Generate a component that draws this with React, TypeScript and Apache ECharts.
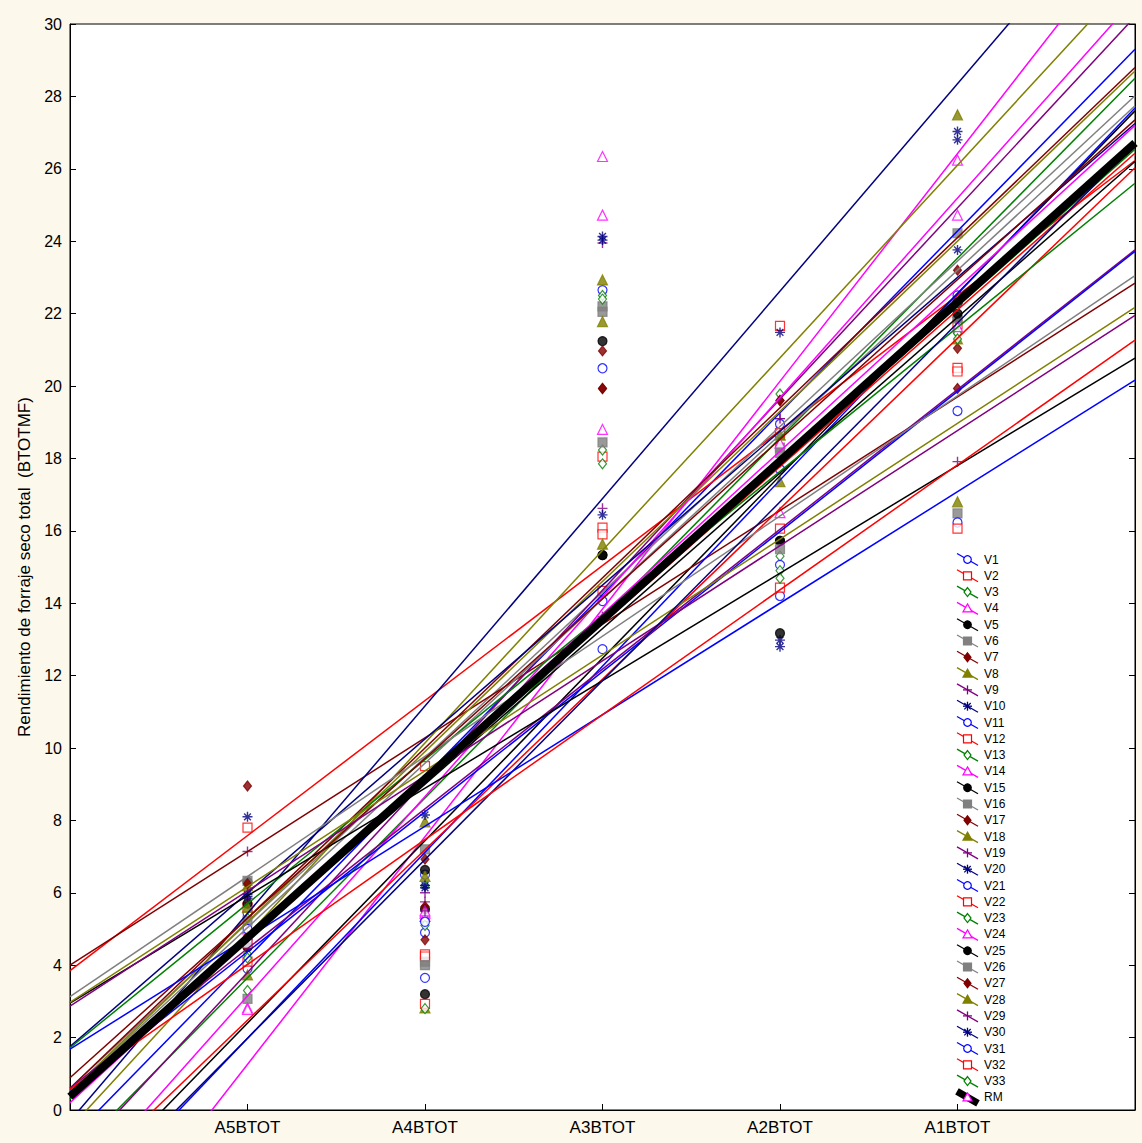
import React, { useEffect, useRef } from "react";
import * as echarts from "echarts";

// Environments (x positions 1..5 on the index axis)
const environments = ["A5BTOT", "A4BTOT", "A3BTOT", "A2BTOT", "A1BTOT"];

// Forage yield per variety in each environment
const V1 = [5.44, 6.5, 22.65, 17.7, 22.5];
const V2 = [7.8, 9.5, 16.09, 21.66, 21.7];
const V3 = [4.3, 6.2, 22.5, 19.78, 21.46];
const V4 = [2.82, 5.44, 26.34, 18.9, 26.24];
const V5 = [6.3, 6.63, 21.24, 15.72, 22.3];
const V6 = [6.33, 7.2, 22.2, 18.3, 24.22];
const V7 = [8.95, 6.93, 20.97, 19.6, 23.2];
const V8 = [6.2, 7.96, 22.93, 18.65, 27.49];
const V9 = [7.14, 5.75, 23.95, 19.1, 22.3];
const V10 = [8.1, 8.15, 24.13, 21.48, 27.03];
const V11 = [3.9, 4.9, 20.49, 18.95, 22.3];
const V12 = [5.6, 4.3, 18.05, 18.7, 20.5];
const V13 = [5.3, 5.25, 18.23, 15.3, 21.8];
const V14 = [2.78, 5.35, 24.72, 18.42, 24.72];
const V15 = [5.7, 5.55, 15.33, 15.72, 21.9];
const V16 = [5.23, 4.1, 22.05, 18.15, 21.87];
const V17 = [6.25, 5.62, 19.93, 17.9, 21.04];
const V18 = [5.6, 6.45, 21.78, 17.36, 21.3];
const V19 = [5.85, 6.0, 16.62, 19.1, 22.3];
const V20 = [5.95, 6.2, 24.03, 12.98, 26.8];
const V21 = [4.7, 3.65, 14.06, 15.06, 19.31];
const V22 = [4.1, 4.24, 15.9, 16.06, 20.4];
const V23 = [4.2, 5.1, 17.85, 14.9, 21.46];
const V24 = [5.0, 5.5, 18.8, 16.5, 21.64];
const V25 = [4.5, 3.2, 15.33, 13.17, 22.0];
const V26 = [3.07, 4.0, 18.44, 15.49, 16.48];
const V27 = [4.8, 4.7, 19.93, 19.6, 19.93];
const V28 = [3.73, 2.82, 15.63, 18.65, 16.8];
const V29 = [4.6, 5.5, 13.63, 17.93, 17.91];
const V30 = [5.9, 6.14, 16.44, 12.8, 23.76];
const V31 = [5.0, 5.2, 12.73, 14.2, 16.23];
const V32 = [4.6, 2.93, 14.34, 14.43, 16.06];
const V33 = [3.3, 2.8, 22.4, 14.69, 21.3];

const varietyValues = [
  V1, V2, V3, V4, V5, V6, V7, V8, V9, V10,
  V11, V12, V13, V14, V15, V16, V17, V18, V19, V20,
  V21, V22, V23, V24, V25, V26, V27, V28, V29, V30,
  V31, V32, V33,
];

// Fitted response lines: yield = intercept + slope * environment index
const fitIntercept = [
  -0.82, 3.85, -1.32, -5.03, -2.64, 0.6, 4.0, -0.5, -1.48, -0.3,
  -3.16, 0.45, 0.5, -2.36, 0.4, 0.5, 0.6, 0.5, 0.6, 1.75,
  0.5, -2.23, 1.72, 0.2, 2.95, 3.13, 0.89, 2.97, 2.87, -2.96,
  1.68, 0.57, 0.3,
];
const fitSlope = [
  5.02, 3.73, 4.97, 6.29, 5.04, 4.57, 3.14, 5.32, 5.28, 5.73,
  5.14, 4.33, 4.34, 5.51, 4.3, 4.54, 4.7, 4.7, 3.86, 4.25,
  3.87, 4.71, 3.98, 4.5, 2.97, 3.32, 4.41, 3.2, 3.18, 4.94,
  3.08, 3.45, 4.4,
];

// Mean response (RM)
const rmIntercept = 0.37;
const rmSlope = 4.39;

const axisMin = 0;
const axisMax = 6;

// Ten plotting styles, cycled over the varieties
const palette = [
  "#0000ff", "#ff0000", "#008000", "#ff00ff", "#000000",
  "#808080", "#800000", "#808000", "#800080", "#000080",
];
const markerKinds = [
  "circle", "rect", "diamond", "triangle", "circle",
  "rect", "diamond", "triangle", "plus", "asterisk",
];
const hollow = [true, true, true, true, false, false, false, false, false, false];

const FONT = "'Liberation Sans', Arial, sans-serif";

const PLUS_PATH = "path://M5 0L5 10M0 5L10 5";
const STAR_PATH = "path://M5 0L5 10M0 5L10 5M1.6 1.6L8.4 8.4M8.4 1.6L1.6 8.4";

function symbolFor(kind: string) {
  if (kind === "plus") return { symbol: PLUS_PATH, size: 10 };
  if (kind === "asterisk") return { symbol: STAR_PATH, size: 10 };
  if (kind === "rect") return { symbol: "rect", size: 9 };
  if (kind === "diamond") return { symbol: "diamond", size: [8, 10] };
  if (kind === "triangle") return { symbol: "triangle", size: 10 };
  return { symbol: "circle", size: 9 };
}

function legendMarker(kind: string, cx: number, cy: number, color: string, open: boolean): any {
  const style = { fill: open ? "#fff" : color, stroke: color, lineWidth: 1.2 };
  if (kind === "circle") return { type: "circle", shape: { cx, cy, r: 3.8 }, style };
  if (kind === "rect") return { type: "rect", shape: { x: cx - 4, y: cy - 4, width: 8, height: 8 }, style };
  if (kind === "diamond")
    return { type: "polygon", shape: { points: [[cx, cy - 4.5], [cx + 3.5, cy], [cx, cy + 4.5], [cx - 3.5, cy]] }, style };
  if (kind === "triangle")
    return { type: "polygon", shape: { points: [[cx, cy - 4.5], [cx + 4.5, cy + 3.5], [cx - 4.5, cy + 3.5]] }, style };
  const lines: any[] = [
    { type: "line", shape: { x1: cx, y1: cy - 4.5, x2: cx, y2: cy + 4.5 }, style: { stroke: color, lineWidth: 1.3 } },
    { type: "line", shape: { x1: cx - 4.5, y1: cy, x2: cx + 4.5, y2: cy }, style: { stroke: color, lineWidth: 1.3 } },
  ];
  if (kind === "asterisk") {
    lines.push(
      { type: "line", shape: { x1: cx - 3.2, y1: cy - 3.2, x2: cx + 3.2, y2: cy + 3.2 }, style: { stroke: color, lineWidth: 1.3 } },
      { type: "line", shape: { x1: cx + 3.2, y1: cy - 3.2, x2: cx - 3.2, y2: cy + 3.2 }, style: { stroke: color, lineWidth: 1.3 } }
    );
  }
  return { type: "group", children: lines };
}

export default function App() {
  const ref = useRef<HTMLDivElement>(null);

  useEffect(() => {
    if (!ref.current) return;
    const chart = echarts.init(ref.current, undefined, { renderer: "svg" });

    const series: any[] = [];
    const legendItems: any[] = [];
    const legendTop = 559.5;
    const legendStep = 16.3;

    varietyValues.forEach((vals, i) => {
      const s = i % 10;
      const color = palette[s];
      const name = "V" + (i + 1);
      const a = fitIntercept[i];
      const b = fitSlope[i];
      const stroked = markerKinds[s] === "plus" || markerKinds[s] === "asterisk";
      series.push({
        name: name + " fit",
        type: "line",
        data: [
          [axisMin, a + b * axisMin],
          [axisMax, a + b * axisMax],
        ],
        showSymbol: false,
        silent: true,
        clip: true,
        lineStyle: { color, width: 1.5 },
      });
      const sym = symbolFor(markerKinds[s]);
      series.push({
        name,
        type: "scatter",
        data: vals.map((v, k) => [k + 1, v]),
        symbol: sym.symbol,
        symbolSize: sym.size,
        itemStyle: {
          color: hollow[s] ? "#ffffff" : stroked ? "none" : color,
          borderColor: color,
          borderWidth: stroked ? 1.4 : 1.2,
        },
      });

      const cy = legendTop + i * legendStep;
      legendItems.push(
        { type: "line", shape: { x1: 957, y1: cy - 6, x2: 978, y2: cy + 6 }, style: { stroke: color, lineWidth: 1.3 } },
        legendMarker(markerKinds[s], 967.5, cy, color, hollow[s]),
        {
          type: "text",
          x: 984,
          y: cy,
          style: { text: name, font: "12px " + FONT, fill: "#000", verticalAlign: "middle", align: "left" },
        }
      );
    });

    series.push({
      name: "RM",
      type: "line",
      data: [
        [axisMin, rmIntercept + rmSlope * axisMin],
        [axisMax, rmIntercept + rmSlope * axisMax],
      ],
      showSymbol: false,
      silent: true,
      clip: true,
      lineStyle: { color: "#000", width: 8 },
    });

    const rmY = legendTop + varietyValues.length * legendStep;
    legendItems.push(
      { type: "line", shape: { x1: 957, y1: rmY - 6, x2: 978, y2: rmY + 6 }, style: { stroke: "#000", lineWidth: 7 } },
      legendMarker("triangle", 967.5, rmY, "#ff00ff", true),
      {
        type: "text",
        x: 984,
        y: rmY,
        style: { text: "RM", font: "12px " + FONT, fill: "#000", verticalAlign: "middle", align: "left" },
      }
    );

    chart.setOption({
      animation: false,
      backgroundColor: "#fdf8ec",
      textStyle: { fontFamily: FONT },
      grid: {
        left: 70,
        right: 7,
        top: 24,
        bottom: 33,
        show: true,
        backgroundColor: "#ffffff",
        borderColor: "#000",
        borderWidth: 1,
      },
      xAxis: {
        type: "value",
        min: axisMin,
        max: axisMax,
        interval: 1,
        splitLine: { show: false },
        axisLine: { lineStyle: { color: "#000", width: 1 } },
        axisTick: { inside: true, length: 6, lineStyle: { color: "#000" } },
        axisLabel: {
          color: "#000",
          fontSize: 17,
          fontFamily: FONT,
          margin: 9,
          formatter: (v: number) => environments[v - 1] ?? "",
        },
      },
      yAxis: [
        {
          type: "value",
          min: 0,
          max: 30,
          interval: 2,
          name: "Rendimiento de forraje seco total  (BTOTMF)",
          nameLocation: "middle",
          nameGap: 34,
          nameTextStyle: { color: "#000", fontSize: 17, fontFamily: FONT },
          splitLine: { show: false },
          axisLine: { show: true, lineStyle: { color: "#000", width: 1 } },
          axisTick: { show: true, inside: true, length: 6, lineStyle: { color: "#000" } },
          axisLabel: { color: "#000", fontSize: 16, fontFamily: FONT, margin: 8 },
        },
        {
          type: "value",
          min: 0,
          max: 30,
          interval: 2,
          position: "right",
          splitLine: { show: false },
          axisLine: { show: true, lineStyle: { color: "#000", width: 1 } },
          axisTick: { show: true, inside: true, length: 6, lineStyle: { color: "#000" } },
          axisLabel: { show: false },
        },
      ],
      series,
      graphic: legendItems,
    });

    return () => chart.dispose();
  }, []);

  return (
    <div
      ref={ref}
      style={{ position: "fixed", left: 0, top: 0, width: 1142, height: 1143, background: "#fdf8ec" }}
    />
  );
}
